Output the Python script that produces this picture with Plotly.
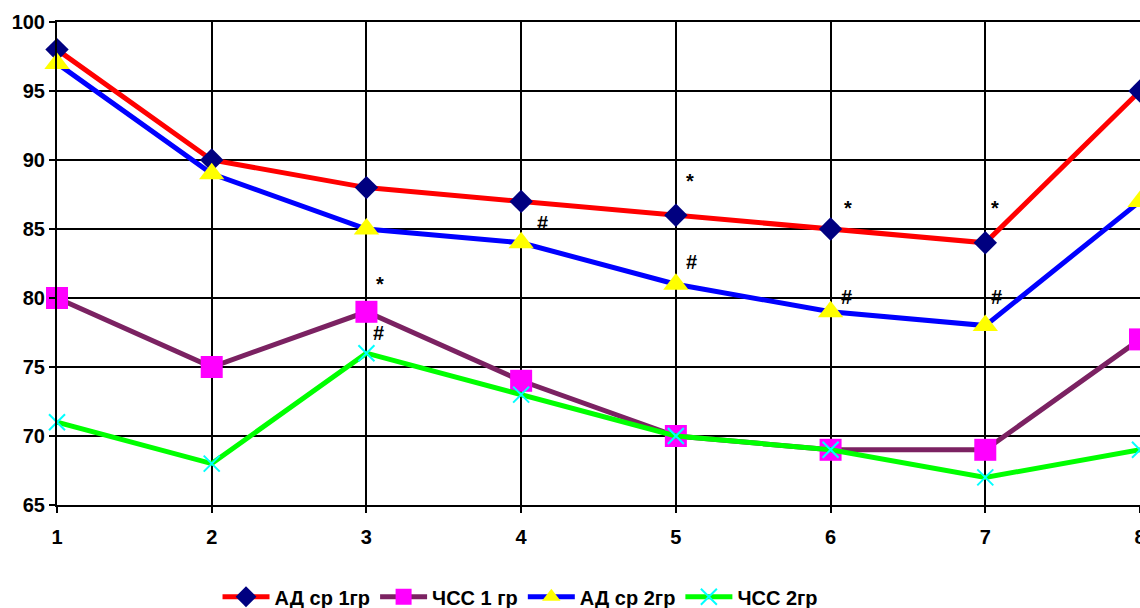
import plotly.graph_objects as go

x_vals = [1, 2, 3, 4, 5, 6, 7, 8]
ad_1gr = [98, 90, 88, 87, 86, 85, 84, 95]
hr_1gr = [80, 75, 79, 74, 70, 69, 69, 77]
ad_2gr = [97, 89, 85, 84, 81, 79, 78, 87]
hr_2gr = [71, 68, 76, 73, 70, 69, 67, 69]
series_names = ["АД ср 1гр", "ЧСС 1 гр", "АД ср 2гр", "ЧСС 2гр"]
y_ticks = [65, 70, 75, 80, 85, 90, 95, 100]

# significance marks
mark_x = [5.09, 6.11, 7.06, 3.09, 4.14, 5.10, 6.10, 7.07, 3.08]
mark_y = [88.5, 86.5, 86.5, 81.0, 85.4, 82.6, 80.1, 80.1, 77.5]
mark_text = ["*", "*", "*", "*", "#", "#", "#", "#", "#"]

font = "Liberation Sans, Arial, sans-serif"

fig = go.Figure()
fig.add_trace(go.Scatter(x=x_vals, y=ad_1gr, name=series_names[0], mode="lines+markers",
                         line=dict(color="#FF0000", width=5), cliponaxis=False,
                         marker=dict(symbol="diamond", size=18, color="#000080")))
fig.add_trace(go.Scatter(x=x_vals, y=hr_1gr, name=series_names[1], mode="lines+markers",
                         line=dict(color="#7B2262", width=5), cliponaxis=False,
                         marker=dict(symbol="square", size=22, color="#FF00FF")))
fig.add_trace(go.Scatter(x=x_vals, y=ad_2gr, name=series_names[2], mode="lines+markers",
                         line=dict(color="#0000FF", width=5), cliponaxis=False,
                         marker=dict(symbol="triangle-up", size=22, color="#FFFF00")))
fig.add_trace(go.Scatter(x=x_vals, y=hr_2gr, name=series_names[3], mode="lines+markers",
                         line=dict(color="#00FF00", width=5), cliponaxis=False,
                         marker=dict(symbol="x-thin", size=16, color="#00FFFF",
                                     line=dict(color="#00FFFF", width=2))))

for mx, my, mt in zip(mark_x, mark_y, mark_text):
    fig.add_annotation(x=mx, y=my, text="<b>%s</b>" % mt, showarrow=False,
                       font=dict(family=font, size=20, color="black"))

fig.update_layout(
    width=1140, height=608,
    margin=dict(l=57, r=0, t=22, b=103, autoexpand=False),
    paper_bgcolor="white", plot_bgcolor="white",
    font=dict(family=font, size=20, color="black"),
    legend=dict(orientation="h", x=0.428, xanchor="center", y=-0.19, yanchor="middle",
                font=dict(family=font, size=20, color="black", weight="bold"),
                itemwidth=47, tracegroupgap=0),
    showlegend=True,
)
fig.update_xaxes(range=[1, 8], tickvals=x_vals, ticktext=["<b>%d</b>" % v for v in x_vals],
                 showgrid=True, gridcolor="black", gridwidth=1.5,
                 showline=True, linecolor="black", linewidth=2, mirror=True,
                 ticks="outside", ticklen=6, tickcolor="black", tickwidth=1.5,
                 zeroline=False, ticklabelstandoff=7, ticklabeloverflow="allow",
                 tickfont=dict(family=font, size=20))
fig.update_yaxes(range=[65, 100], tickvals=y_ticks, ticktext=["<b>%d</b>" % v for v in y_ticks],
                 showgrid=True, gridcolor="black", gridwidth=1.5,
                 showline=True, linecolor="black", linewidth=2, mirror=True,
                 ticks="outside", ticklen=6, tickcolor="black", tickwidth=1.5,
                 zeroline=False, ticklabeloverflow="allow", tickfont=dict(family=font, size=20))

fig.write_html("out.html", config={"displayModeBar": False},
               post_script="document.body.style.margin='0';document.body.style.overflow='hidden';")
